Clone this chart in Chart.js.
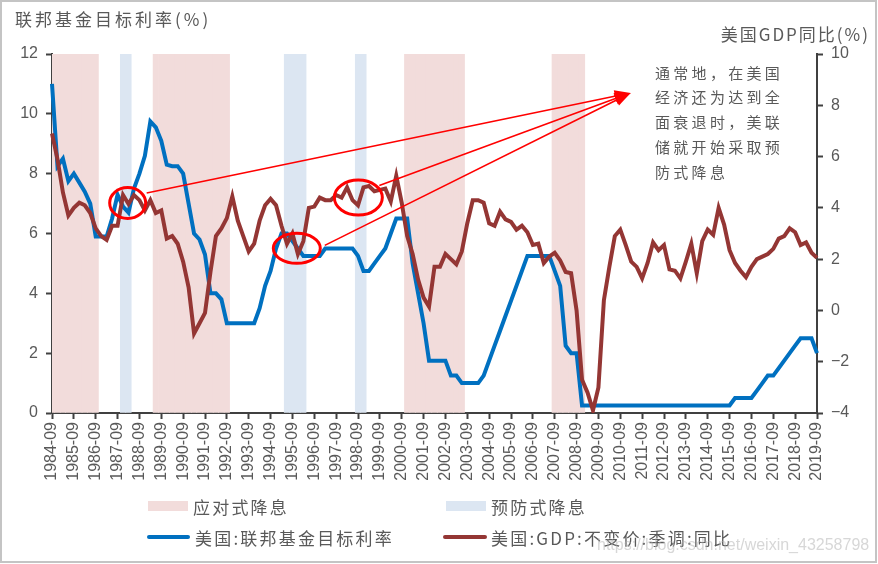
<!DOCTYPE html>
<html>
<head>
<meta charset="utf-8">
<script src="https://cdn.jsdelivr.net/npm/chart.js"></script>
<style>
  body { margin: 0; background: #fff; }
  #wrap { position: relative; width: 878px; height: 564px; }
  #frame { position: absolute; left: 0; top: 0; width: 873px; height: 559px; border: 2.5px solid #c4c4c4; pointer-events: none; }
  .lg { position: absolute; font-family: "Noto Sans CJK SC", sans-serif; font-size: 17px; color: #595959; letter-spacing: 2.2px; line-height: 20px; white-space: nowrap; }
  .sw { position: absolute; }
  #wm { position: absolute; left: 597px; top: 536px; font: 16px "Liberation Sans", Arial, sans-serif; color: rgba(175,175,175,0.5); white-space: nowrap; }
</style>
</head>
<body>
<div id="wrap">
  <canvas id="myChart" width="878" height="564"></canvas>
  <div class="sw" style="left:148px;top:501px;width:40px;height:10px;background:#f2dcdb"></div>
  <div class="lg" style="left:193px;top:497px">应对式降息</div>
  <div class="sw" style="left:446px;top:501px;width:40px;height:10px;background:#dce6f2"></div>
  <div class="lg" style="left:491px;top:497px">预防式降息</div>
  <div class="sw" style="left:147px;top:535px;width:43px;height:4px;border-radius:2px;background:#0070c0"></div>
  <div class="lg" style="left:195px;top:528px">美国:联邦基金目标利率</div>
  <div class="sw" style="left:443px;top:535px;width:44px;height:4px;border-radius:2px;background:#943634"></div>
  <div class="lg" style="left:491px;top:528px">美国:GDP:不变价:季调:同比</div>
  <div id="wm">https://blog.csdn.net/weixin_43258798</div>
  <div id="frame"></div>
</div>
<script>
  // quarterly categories 1984-09 .. 2019-09
  var quarterLabels = [];
  for (var yr = 1984; yr <= 2019; yr++) {
    ['03', '06', '09', '12'].forEach(function (m) {
      var lab = yr + '-' + m;
      if (lab >= '1984-09' && lab <= '2019-09') quarterLabels.push(lab);
    });
  }

  // 美国:联邦基金目标利率 (%)
  var fedRate = [
    11.0, 8.25, 8.5, 7.75, 8.0, 7.7, 7.4, 7.0, 5.9, 5.9,
    5.9, 6.5, 7.3, 6.9, 6.7, 7.5, 8.0, 8.6, 9.75, 9.55,
    9.1, 8.3, 8.25, 8.25, 8.0, 7.0, 6.0, 5.8, 5.3, 4.0,
    4.0, 3.8, 3.0, 3.0, 3.0, 3.0, 3.0, 3.0, 3.5, 4.25,
    4.75, 5.5, 6.0, 6.0, 5.75, 5.5, 5.25, 5.25, 5.25, 5.25,
    5.5, 5.5, 5.5, 5.5, 5.5, 5.5, 5.25, 4.75, 4.75, 5.0,
    5.25, 5.5, 6.0, 6.5, 6.5, 6.5, 5.0, 4.0, 3.0, 1.75,
    1.75, 1.75, 1.75, 1.25, 1.25, 1.0, 1.0, 1.0, 1.0, 1.25,
    1.75, 2.25, 2.75, 3.25, 3.75, 4.25, 4.75, 5.25, 5.25, 5.25,
    5.25, 5.25, 4.75, 4.25, 2.25, 2.0, 2.0, 0.25, 0.25, 0.25,
    0.25, 0.25, 0.25, 0.25, 0.25, 0.25, 0.25, 0.25, 0.25, 0.25,
    0.25, 0.25, 0.25, 0.25, 0.25, 0.25, 0.25, 0.25, 0.25, 0.25,
    0.25, 0.25, 0.25, 0.25, 0.25, 0.5, 0.5, 0.5, 0.5, 0.75,
    1.0, 1.25, 1.25, 1.5, 1.75, 2.0, 2.25, 2.5, 2.5, 2.5,
    2.0
  ];

  // 美国:GDP:不变价:季调:同比 (%)
  var gdpYoy = [
    6.9, 5.9, 4.6, 3.7, 4.0, 4.2, 4.1, 3.8, 3.2, 2.9,
    2.75, 3.3, 3.3, 4.5, 4.15, 4.5, 4.3, 3.9, 4.3, 3.8,
    3.9, 2.8, 2.9, 2.6, 1.9, 0.9, -0.9, -0.5, -0.1, 1.5,
    2.9, 3.2, 3.6, 4.45, 3.5, 2.9, 2.3, 2.6, 3.5, 4.1,
    4.35, 4.1, 3.3, 2.6, 3.0, 2.2, 2.7, 4.0, 4.05, 4.4,
    4.3, 4.3, 4.5, 4.4, 4.8, 4.3, 4.1, 4.8, 4.85, 4.65,
    4.7, 4.75, 4.25, 5.25, 4.2, 2.9, 2.2, 1.2, 0.5, 0.15,
    1.7, 1.7, 2.2, 2.0, 1.8, 2.3, 3.4, 4.3, 4.3, 4.2,
    3.4, 3.3, 3.85, 3.55, 3.45, 3.15, 3.3, 3.05, 2.55, 2.6,
    1.85, 2.1, 2.25, 1.95, 1.5, 1.45, 0.0, -2.7, -3.2, -3.9,
    -3.0, 0.4, 1.7, 2.9, 3.15, 2.55, 1.9, 1.7, 1.25, 1.85,
    2.65, 2.35, 2.55, 1.6, 1.55, 1.25, 1.9, 2.6, 1.45, 2.7,
    3.15, 2.95, 4.0, 3.35, 2.35, 1.85, 1.55, 1.3, 1.7, 2.0,
    2.1, 2.2, 2.4, 2.8, 2.9, 3.2, 3.05, 2.55, 2.65, 2.25,
    2.05
  ];

  // shaded easing periods [first quarter, last quarter]
  var responsiveCuts = [['1984-09', '1986-09'], ['1989-06', '1992-09'], ['2000-12', '2003-06'], ['2007-09', '2008-12']];
  var preventiveCuts = [['1987-12', '1988-03'], ['1995-06', '1996-03'], ['1998-09', '1998-12']];

  var leftTicks = { min: 0, max: 12, step: 2 };
  var rightTicks = { min: -4, max: 10, step: 2 };

  // circled episodes (category index, GDP value) and where the arrows point
  var circled = [
    { at: 13.85, gdp: 4.19, rx: 18, ry: 15.5, dx: 19, dy: -10 },
    { at: 44.8, gdp: 2.42, rx: 23.5, ry: 15, dx: 28, dy: -3 },
    { at: 56.06, gdp: 4.40, rx: 24, ry: 17.5, dx: 21, dy: -12 }
  ];
  var arrowTip = { at: 105.9, gdp: 8.48 };
  var noteLines = ['通常地，在美国', '经济还为达到全', '面衰退时，美联', '储就开始采取预', '防式降息'];

  function shade(periods) {
    return quarterLabels.map(function (q) {
      return periods.some(function (p) { return q >= p[0] && q <= p[1]; }) ? leftTicks.max : null;
    });
  }

  var tickFont = { family: "'Liberation Sans', Arial, sans-serif", size: 16 };
  var axisColor = '#404040';
  var labelColor = '#595959';

  var overlay = {
    id: 'overlay',
    afterDatasetsDraw: function (chart) {
      var ctx = chart.ctx, x = chart.scales.x, y1 = chart.scales.y1;
      var tx = x.getPixelForValue(arrowTip.at), ty = y1.getPixelForValue(arrowTip.gdp);
      ctx.save();
      ctx.strokeStyle = '#ff0000';
      ctx.fillStyle = '#ff0000';
      circled.forEach(function (c) {
        var cx = x.getPixelForValue(c.at), cy = y1.getPixelForValue(c.gdp);
        ctx.lineWidth = 3;
        ctx.beginPath();
        ctx.ellipse(cx, cy, c.rx, c.ry, 0, 0, Math.PI * 2);
        ctx.stroke();
        var sx = cx + c.dx, sy = cy + c.dy;
        var ang = Math.atan2(ty - sy, tx - sx);
        var bx = tx - 14 * Math.cos(ang), by = ty - 14 * Math.sin(ang);
        ctx.lineWidth = 1.6;
        ctx.beginPath();
        ctx.moveTo(sx, sy);
        ctx.lineTo(bx, by);
        ctx.stroke();
        ctx.beginPath();
        ctx.moveTo(tx, ty);
        ctx.lineTo(tx - 16 * Math.cos(ang) + 6 * Math.sin(ang), ty - 16 * Math.sin(ang) - 6 * Math.cos(ang));
        ctx.lineTo(tx - 16 * Math.cos(ang) - 6 * Math.sin(ang), ty - 16 * Math.sin(ang) + 6 * Math.cos(ang));
        ctx.closePath();
        ctx.fill();
      });
      ctx.restore();
    },
    afterDraw: function (chart) {
      var ctx = chart.ctx, area = chart.chartArea;
      ctx.save();
      ctx.fillStyle = labelColor;
      ctx.textBaseline = 'middle';
      ctx.font = '17px "Noto Sans CJK SC", sans-serif';
      ctx.letterSpacing = '3px';
      ctx.textAlign = 'left';
      ctx.fillText('联邦基金目标利率(%)', 15, 20);
      ctx.textAlign = 'right';
      ctx.letterSpacing = '2px';
      ctx.fillText('美国GDP同比(%)', 870, 35);
      ctx.textAlign = 'left';
      ctx.font = '15px "Noto Sans CJK SC", sans-serif';
      ctx.letterSpacing = '3.3px';
      noteLines.forEach(function (t, i) {
        ctx.fillText(t, area.right - 162, area.top + 19 + i * 24.7);
      });
      ctx.restore();
    }
  };

  var ctx = document.getElementById('myChart').getContext('2d');
  window.myChart = new Chart(ctx, {
    type: 'line',
    data: {
      labels: quarterLabels,
      datasets: [
        {
          label: '美国:GDP:不变价:季调:同比',
          data: gdpYoy,
          yAxisID: 'y1',
          borderColor: '#943634',
          borderWidth: 4,
          pointRadius: 0,
          tension: 0,
          order: 0
        },
        {
          label: '美国:联邦基金目标利率',
          data: fedRate,
          yAxisID: 'y',
          borderColor: '#0070c0',
          borderWidth: 4,
          pointRadius: 0,
          tension: 0,
          order: 1
        },
        {
          type: 'bar',
          label: '应对式降息',
          data: shade(responsiveCuts),
          yAxisID: 'y',
          backgroundColor: '#f2dcdb',
          barPercentage: 1,
          categoryPercentage: 1,
          grouped: false,
          order: 5
        },
        {
          type: 'bar',
          label: '预防式降息',
          data: shade(preventiveCuts),
          yAxisID: 'y',
          backgroundColor: '#dce6f2',
          barPercentage: 1,
          categoryPercentage: 1,
          grouped: false,
          order: 5
        }
      ]
    },
    options: {
      responsive: false,
      animation: false,
      layout: { padding: { top: 54, bottom: 80, left: 0, right: 0 } },
      plugins: { legend: { display: false }, tooltip: { enabled: false } },
      scales: {
        x: {
          offset: false,
          grid: {
            drawOnChartArea: false,
            offset: false,
            tickLength: 6,
            tickWidth: 2,
            tickColor: function (c) {
              return quarterLabels[c.index] && quarterLabels[c.index].slice(5) === '09' ? axisColor : 'rgba(0,0,0,0)';
            }
          },
          border: { color: axisColor, width: 2 },
          ticks: {
            autoSkip: false,
            minRotation: 90,
            maxRotation: 90,
            padding: 3,
            color: labelColor,
            font: tickFont,
            callback: function (v, i) {
              return quarterLabels[i].slice(5) === '09' ? quarterLabels[i] : '';
            }
          },
          afterFit: function (s) { s.height = 71; }
        },
        y: {
          position: 'left',
          min: leftTicks.min,
          max: leftTicks.max,
          grid: { drawOnChartArea: false, tickLength: 6, tickWidth: 2, tickColor: axisColor },
          border: { color: axisColor, width: 2 },
          ticks: { stepSize: leftTicks.step, padding: 8, color: labelColor, font: tickFont },
          afterFit: function (s) { s.width = 52; }
        },
        y1: {
          position: 'right',
          min: rightTicks.min,
          max: rightTicks.max,
          grid: { drawOnChartArea: false, tickLength: 6, tickWidth: 2, tickColor: axisColor },
          border: { color: axisColor, width: 2 },
          ticks: {
            stepSize: rightTicks.step,
            padding: 8,
            color: labelColor,
            font: tickFont,
            callback: function (v) { return v < 0 ? '\u2212' + Math.abs(v) : v; }
          },
          afterFit: function (s) { s.width = 61; }
        }
      }
    },
    plugins: [overlay]
  });
</script>
</body>
</html>
